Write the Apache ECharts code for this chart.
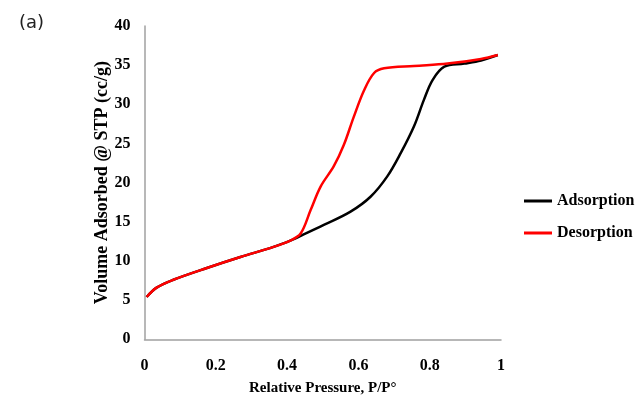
<!DOCTYPE html>
<html><head><meta charset="utf-8">
<script src="https://cdn.jsdelivr.net/npm/echarts@6/dist/echarts.min.js"></script>
<style>html,body{margin:0;padding:0;background:#fff}#c{width:644px;height:400px}</style>
</head><body><div id="c"></div>
<script>
const adsorptionP = [0.006,0.034,0.081,0.175,0.269,0.362,0.409,0.438,0.503,0.578,0.634,0.681,0.719,0.756,0.784,0.808,0.841,0.897,0.944,0.991];
const adsorptionV = [5.4,6.6,7.6,9.1,10.5,11.8,12.6,13.2,14.6,16.3,18.2,20.8,23.8,27.2,30.6,33.1,34.8,35.2,35.6,36.3];
const desorptionP = [0.006,0.034,0.081,0.175,0.269,0.362,0.409,0.438,0.466,0.494,0.531,0.559,0.587,0.616,0.644,0.672,0.756,0.85,0.944,0.991];
const desorptionV = [5.4,6.6,7.6,9.1,10.5,11.8,12.6,13.5,16.5,19.5,22.1,24.8,28.4,31.8,34.0,34.6,34.9,35.2,35.8,36.3];
const xTicks = [0,0.2,0.4,0.6,0.8,1];
const yTicks = [0,5,10,15,20,25,30,35,40];

const serif = '"Liberation Serif","Times New Roman",serif';
const chart = echarts.init(document.getElementById('c'));
chart.setOption({
  animation:false,
  title:{text:'(a)',left:14,top:9,textStyle:{fontFamily:'"DejaVu Sans",sans-serif',fontWeight:'normal',fontSize:18,color:'#222'}},
  grid:{left:144.5,right:143,top:26,bottom:60.7,outerBoundsMode:'none',containLabel:false},
  legend:{orient:'vertical',left:524,top:193,padding:0,itemWidth:28,itemHeight:3,itemGap:16,icon:'rect',
    textStyle:{fontFamily:serif,fontWeight:'bold',fontSize:16,color:'#000'},
    data:['Adsorption','Desorption']},
  xAxis:{type:'value',min:0,max:1,interval:0.2,
    name:'Relative Pressure, P/P°',nameLocation:'middle',nameGap:41,nameMoveOverlap:false,
    nameTextStyle:{fontFamily:serif,fontWeight:'bold',fontSize:15,color:'#000'},
    axisLine:{lineStyle:{color:'#a0a0a0',width:1.5}},axisTick:{show:false},splitLine:{show:false},
    axisLabel:{margin:19,fontFamily:serif,fontWeight:'bold',fontSize:16,color:'#000',
      formatter:v=>{const t=xTicks.find(k=>Math.abs(k-v)<1e-9);return t===undefined?'':String(t);}}},
  yAxis:{type:'value',min:0,max:40,interval:5,
    name:'Volume Adsorbed @ STP (cc/g)',nameLocation:'middle',nameGap:33,nameMoveOverlap:false,
    nameTextStyle:{fontFamily:serif,fontWeight:'bold',fontSize:18,color:'#000'},
    axisLine:{show:true,lineStyle:{color:'#a0a0a0',width:1.5}},axisTick:{show:false},splitLine:{show:false},
    axisLabel:{margin:14,fontFamily:serif,fontWeight:'bold',fontSize:16,color:'#000',
      formatter:v=>yTicks.includes(v)?String(v):''}},
  series:[
    {name:'Adsorption',type:'line',smooth:0.35,symbol:'none',color:'#000',
     lineStyle:{width:2.5,color:'#000'},data:adsorptionP.map((p,i)=>[p,adsorptionV[i]])},
    {name:'Desorption',type:'line',smooth:0.35,symbol:'none',color:'#ff0000',
     lineStyle:{width:2.5,color:'#ff0000'},data:desorptionP.map((p,i)=>[p,desorptionV[i]])}
  ]
});
</script></body></html>
